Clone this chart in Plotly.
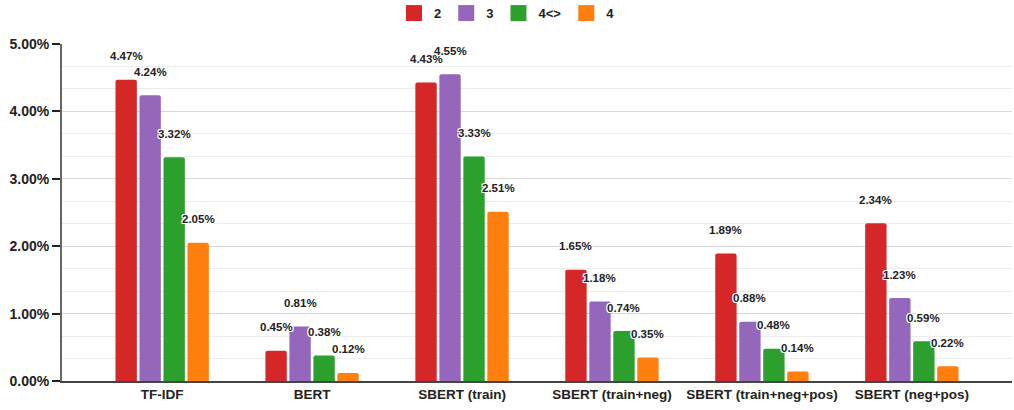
import plotly.graph_objects as go

categories = ["TF-IDF", "BERT", "SBERT (train)", "SBERT (train+neg)",
              "SBERT (train+neg+pos)", "SBERT (neg+pos)"]
series_names = ["2", "3", "4<>", "4"]
values_2 = [0.0447, 0.0045, 0.0443, 0.0165, 0.0189, 0.0234]
values_3 = [0.0424, 0.0081, 0.0455, 0.0118, 0.0088, 0.0123]
values_4ne = [0.0332, 0.0038, 0.0333, 0.0074, 0.0048, 0.0059]
values_4 = [0.0205, 0.0012, 0.0251, 0.0035, 0.0014, 0.0022]
y_ticks = [0.0, 0.01, 0.02, 0.03, 0.04, 0.05]

series_values = [values_2, values_3, values_4ne, values_4]
colors = ["#d62728", "#9467bd", "#2ca02c", "#ff7f0e"]

FONT = "Liberation Sans, Arial, sans-serif"
BARGAP = 0.36
BARGROUPGAP = 0.11
HALO = ("-1px -1px 0 #fff, 1px -1px 0 #fff, -1px 1px 0 #fff, 1px 1px 0 #fff, "
        "0 -1px 0 #fff, 0 1px 0 #fff, -1px 0 0 #fff, 1px 0 0 #fff")

fig = go.Figure()
for name, vals, col in zip(series_names, series_values, colors):
    fig.add_trace(go.Bar(
        name=name, x=categories, y=vals, showlegend=False,
        marker=dict(color=col, line=dict(width=0)),
        hovertemplate="%{x}: %{y:.2%}<extra>" + name + "</extra>",
    ))
    # legend entry drawn as a larger square swatch
    fig.add_trace(go.Scatter(
        name=name, x=[None], y=[None], mode="markers",
        marker=dict(symbol="square", size=16, color=col),
        hoverinfo="skip",
    ))

# value labels, centred above each bar of the group
n = len(series_names)
slot = (1 - BARGAP) / n
annotations = []
for j, vals in enumerate(series_values):
    offset = -(1 - BARGAP) / 2 + slot * (j + 0.5)
    for i, v in enumerate(vals):
        annotations.append(dict(
            x=i + offset, y=v, xref="x", yref="y",
            text=f"{v * 100:.2f}%", showarrow=False,
            yanchor="middle", yshift=23.5,
            font=dict(family=FONT, size=11.5, color="#222", weight="bold",
                      shadow=HALO),
        ))

fig.update_layout(
    width=1014, height=410,
    margin=dict(l=62, r=2, t=44, b=29, autoexpand=False),
    paper_bgcolor="white", plot_bgcolor="white",
    barmode="group", bargap=BARGAP, bargroupgap=BARGROUPGAP,
    barcornerradius=2,
    font=dict(family=FONT, size=13, color="#222"),
    showlegend=True,
    legend=dict(orientation="h", xref="container", x=0.5, xanchor="center",
                yref="container", y=0.968, yanchor="middle",
                font=dict(size=13, weight="bold"),
                itemclick=False, itemdoubleclick=False),
    annotations=annotations,
)
fig.update_xaxes(
    type="category", range=[-0.668, 5.668],
    showline=True, linecolor="#444", linewidth=1.5,
    ticks="", tickfont=dict(size=13.5, weight="bold"),
    showgrid=False, fixedrange=True,
)
fig.update_yaxes(
    range=[0, 0.05], tickvals=y_ticks, tickformat=".2%",
    showline=True, linecolor="#666", linewidth=2,
    ticks="outside", ticklen=8, tickcolor="#222", tickwidth=1.5,
    tickfont=dict(size=14, weight="bold"),
    showgrid=True, gridcolor="#d9d9d9", gridwidth=1,
    minor=dict(dtick=0.01 / 3, tick0=0, showgrid=True,
               gridcolor="#ececec", gridwidth=1, ticks=""),
    zeroline=False, fixedrange=True,
)

fig.write_html("out.html")
